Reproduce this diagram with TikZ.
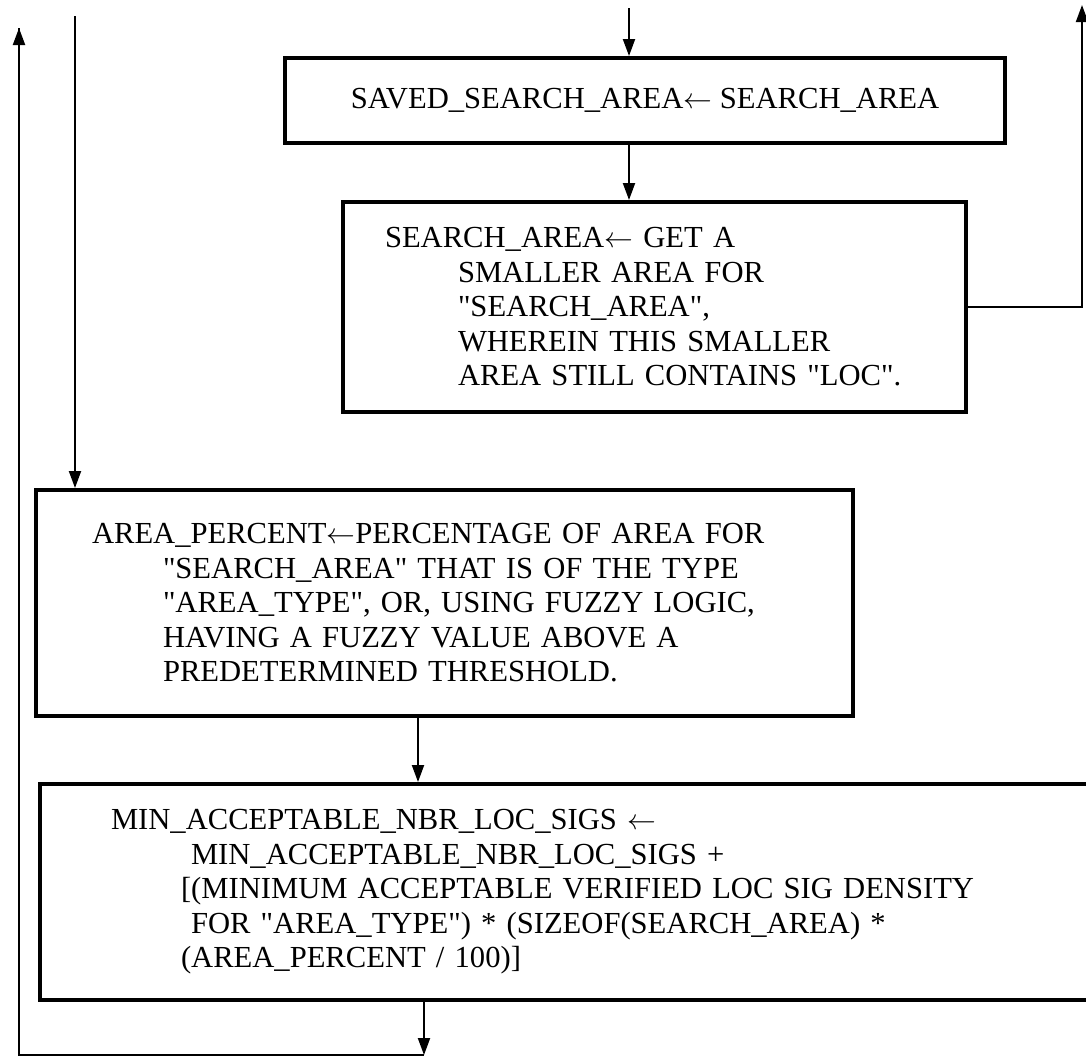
\documentclass[tikz,border=0pt]{standalone}
\usepackage{fontspec}
\setmainfont{Liberation Serif}
\usetikzlibrary{arrows.meta}
\newcommand{\getsarrow}{$\leftarrow$}
\newcommand{\dq}{\textquotedbl}

\begin{document}
\begin{tikzpicture}[
  x=0.5pt, y=-0.5pt,
  stepbox/.style={rectangle, draw=black, line width=2pt, inner sep=0pt, align=left, font=\fontsize{15.3}{17.25}\selectfont},
  arrow/.style={-{Triangle[length=8.5pt, width=6pt]}, line width=1pt},
  flowline/.style={line width=1pt}
]
  \useasboundingbox (0,0) rectangle (1086,1057);
  \clip (0,0) rectangle (1086,1057);

  % process boxes
  \node[stepbox, align=center, minimum width=360pt, minimum height=42.5pt] (saved) at (645,100.5)
    {SAVED\_SEARCH\_AREA\getsarrow{} SEARCH\_AREA};
  \node[stepbox, text width=269.5pt, minimum width=311.5pt, minimum height=105pt] (smaller) at (654.5,307)
    {SEARCH\_AREA\getsarrow{} GET A\\
     \hspace*{36.5pt}SMALLER AREA FOR\\
     \hspace*{36.5pt}\dq SEARCH\_AREA\dq,\\
     \hspace*{36.5pt}WHEREIN THIS SMALLER\\
     \hspace*{36.5pt}AREA STILL CONTAINS \dq LOC\dq.};
  \node[stepbox, text width=352.5pt, minimum width=408.5pt, minimum height=113pt] (percent) at (444.5,603)
    {AREA\_PERCENT\getsarrow{}PERCENTAGE OF AREA FOR\\
     \hspace*{35.5pt}\dq SEARCH\_AREA\dq{} THAT IS OF THE TYPE\\
     \hspace*{35.5pt}\dq AREA\_TYPE\dq, OR, USING FUZZY LOGIC,\\
     \hspace*{35.5pt}HAVING A FUZZY VALUE ABOVE A\\
     \hspace*{35.5pt}PREDETERMINED THRESHOLD.};
  \node[stepbox, text width=479pt, minimum width=550pt, minimum height=108pt] (minsigs) at (590,892)
    {MIN\_ACCEPTABLE\_NBR\_LOC\_SIGS \getsarrow\\
     \hspace*{40pt}MIN\_ACCEPTABLE\_NBR\_LOC\_SIGS +\\
     \hspace*{35pt}[(MINIMUM ACCEPTABLE VERIFIED LOC SIG DENSITY\\
     \hspace*{40pt}FOR \dq AREA\_TYPE\dq) * (SIZEOF(SEARCH\_AREA) *\\
     \hspace*{35pt}(AREA\_PERCENT / 100)]};

  % loose ends of the flow
  \coordinate (entry) at (629,8);
  \coordinate (loopin) at (75,16);
  \coordinate (loopout) at (1082,5);
  \coordinate (step) at (418,750);
  \coordinate (exit) at (424,1055);
  \coordinate (back) at (19,28);

  \draw[arrow] (entry) -- (entry |- saved.north);
  \draw[arrow] (saved.south -| entry) -- (entry |- smaller.north);
  \draw[arrow] (smaller.east) -| (loopout);
  \draw[arrow] (loopin) -- (loopin |- percent.north);
  \draw[arrow] (percent.south -| step) -- (step |- minsigs.north);
  \draw[arrow] (minsigs.south -| exit) -- (exit);
  \draw[flowline] (exit) -| (back);
  \draw[arrow] (back |- exit) -- (back);
\end{tikzpicture}
\end{document}
